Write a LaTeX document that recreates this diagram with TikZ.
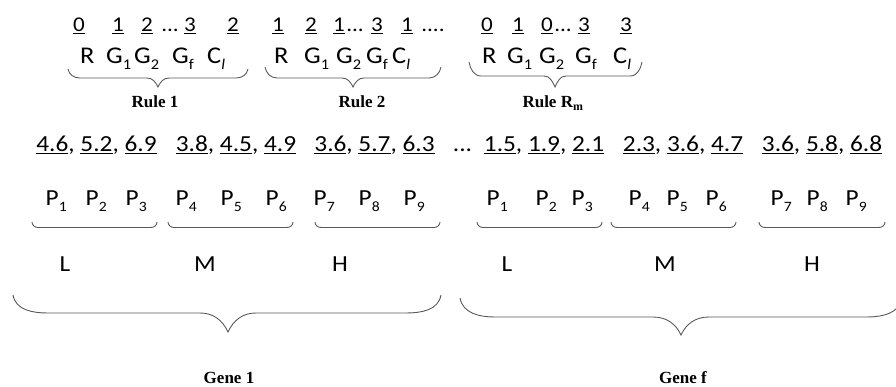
\documentclass[tikz,border=0pt]{standalone}
\usepackage{fontspec}
\setmainfont{Carlito}[FakeStretch=1.1]
\newfontfamily\rulefont{Liberation Serif}
\newcommand\lsub[1]{\raisebox{-0.24em}{\scalebox{0.62}{#1}}}
\newcommand\cbrace[8]{\draw[br] (#1,-#3) to[out=-80,in=180] ({#1+#7},-#4) -- ({#5-#8},-#4) to[out=0,in=115] (#5,-#6) to[out=65,in=180] ({#5+#8},-#4) -- ({#2-#7},-#4) to[out=0,in=-100] (#2,-#3);}
\newcommand\sbrace[2]{\draw[br] (#1,-222) to[out=-90,in=180] ({#1+6},-227.5) -- ({#2-6},-227.5) to[out=0,in=-90] (#2,-222);}
\begin{document}
\begin{tikzpicture}[x=1pt,y=1pt,
  t1/.style={font=\fontsize{21}{23}\selectfont,anchor=base,inner sep=0pt},
  t2/.style={font=\fontsize{24}{26}\selectfont,anchor=base west,inner sep=0pt},
  t3/.style={font=\fontsize{23}{25}\selectfont,anchor=base,inner sep=0pt},
  tp/.style={font=\fontsize{23}{25}\selectfont,anchor=base west,inner sep=0pt},
  lbl/.style={font=\rulefont\bfseries\fontsize{17}{19}\selectfont,anchor=base,inner sep=0pt},
  br/.style={draw=black!65,line width=0.9pt},
]
\path[use as bounding box] (0,0) rectangle (896,-387);
\clip (0,0) rectangle (896,-387);
% row 1: underlined values
\foreach \x/\t [count=\i] in {79/0,118/1,147/2,190/3,233/2,
  278/1,311/2,339/1,377/3,407/1,
  487/0,518/1,547/0,584/3,626/3}
  \node[t1] (v\i) at (\x,-32) {\underline{\t}};
\node[t1] (d1) at (170,-32) {...};
\node[t1] (d2) at (355,-32) {...};
\node[t1] (d3) at (433,-32) {....};
\node[t1] (d4) at (563,-32) {...};
% row 2: R G1 G2 Gf Cl
\foreach \a/\b/\c/\d/\e [count=\i] in {80/106/134/172/207, 274/304/336/366/392, 482/507/539/575/613}{
  \node[t2] (r\i) at (\a,-64) {R};
  \node[t2] (ga\i) at (\b,-64) {G\lsub{1}};
  \node[t2] (gb\i) at (\c,-64) {G\lsub{2}};
  \node[t2] (gf\i) at (\d,-64) {G\lsub{f}};
  \node[t2] (cl\i) at (\e,-64) {C\lsub{\itshape l}};
}
% rule braces and labels
\cbrace{68}{248}{69}{78}{158}{87}{12}{11}
\cbrace{265}{441}{67}{78}{353}{87}{12}{11}
\cbrace{469}{642}{62}{76}{555}{87}{12}{11}
\node[lbl] (rule1) at (155,-108) {Rule 1};
\node[lbl] (rule2) at (362,-108) {Rule 2};
\node[lbl] (rulem) at (553,-108) {Rule R\textsubscript{m}};
% row 3: underlined parameter values
\node[t3] (n1) at (96.5,-152) {\underline{4.6}, \underline{5.2}, \underline{6.9}};
\node[t3] (n2) at (236,-152) {\underline{3.8}, \underline{4.5}, \underline{4.9}};
\node[t3] (n3) at (374.5,-152) {\underline{3.6}, \underline{5.7}, \underline{6.3}};
\node[t3] (ndots) at (462.5,-152) {...};
\node[t3] (n4) at (544,-152) {\underline{1.5}, \underline{1.9}, \underline{2.1}};
\node[t3] (n5) at (683,-152) {\underline{2.3}, \underline{3.6}, \underline{4.7}};
\node[t3] (n6) at (822,-152) {\underline{3.6}, \underline{5.8}, \underline{6.8}};
% row 4: P1..P9
\foreach \x [count=\i] in {45.5,85.5,125.5,175.5,220.5,265.5,313.5,358.5,403.5}
  \node[tp] (pa\i) at (\x,-206) {P\lsub{\i}};
\foreach \x [count=\i] in {486.5,535.5,571.5,628.5,666.5,705.5,770.5,806.5,845.5}
  \node[tp] (pb\i) at (\x,-206) {P\lsub{\i}};
% small braces
\sbrace{32}{157}\sbrace{168}{293}\sbrace{315}{440}
\sbrace{477}{602}\sbrace{611}{736}\sbrace{759}{885}
% L M H
\foreach \x/\t [count=\i] in {65/L,205/M,340/H,507/L,665/M,812/H}
  \node[t3] (lmh\i) at (\x,-272) {\t};
% big braces and gene labels
\cbrace{13}{441}{295}{313}{228}{332}{35}{28}
\cbrace{460}{902}{298}{317}{681}{335}{35}{28}
\node[lbl] (gene1) at (229,-383) {Gene 1};
\node[lbl] (genef) at (683,-383) {Gene f};
\end{tikzpicture}
\end{document}
